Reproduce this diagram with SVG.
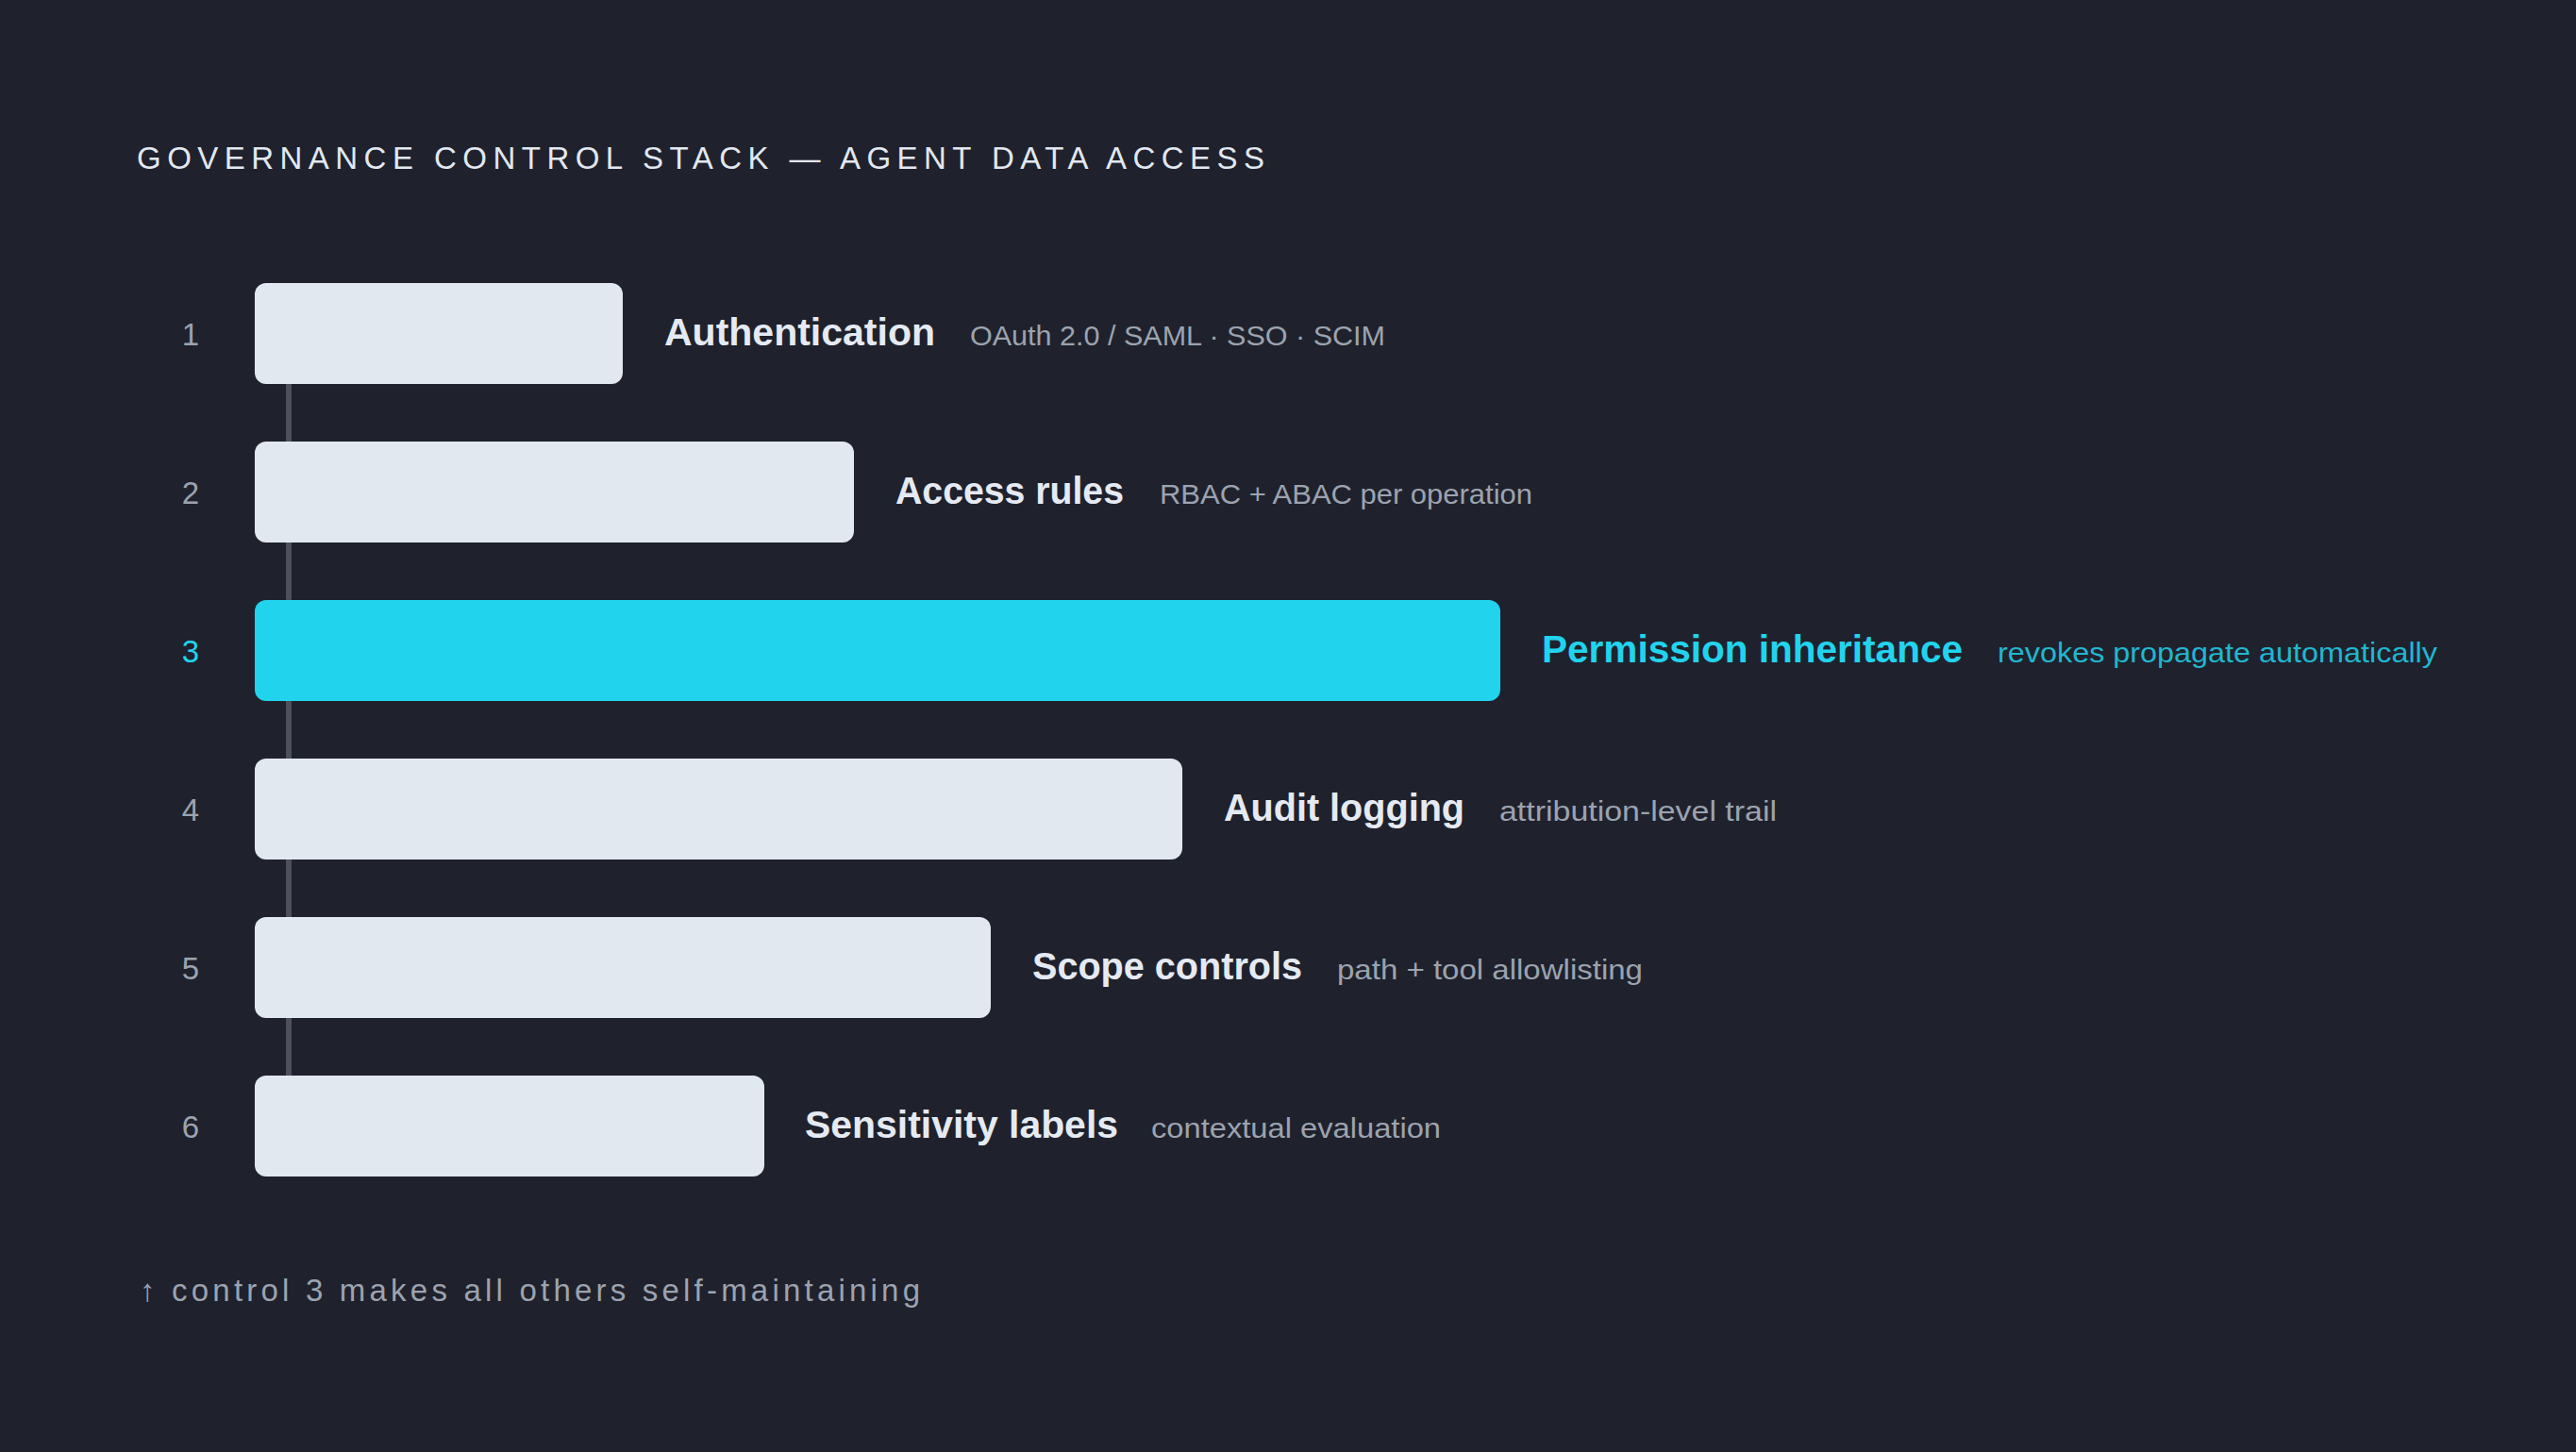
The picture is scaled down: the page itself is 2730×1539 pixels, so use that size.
<svg xmlns="http://www.w3.org/2000/svg" width="2730" height="1539" viewBox="0 0 2730 1539">
  <style>
    .bg { fill: #1f222d; }
    .box { fill: #e2e8f0; }
    .box.hi { fill: #22d3ee; }
    .num { font-family: "Liberation Sans", Arial, sans-serif; font-size: 33px; fill: #9ca3af; text-anchor: middle; }
    .num.hi { fill: #22d3ee; }
    .label { font-family: "Liberation Sans", Arial, sans-serif; font-size: 40px; font-weight: bold; fill: #e5eaf2; }
    .label.hi { fill: #22d3ee; }
    .desc { font-family: "Liberation Sans", Arial, sans-serif; font-size: 30px; fill: #9ca3af; }
    .desc.hi { fill: #22d3ee; fill-opacity: 0.85; }
    .title { font-family: "Liberation Sans", Arial, sans-serif; font-size: 33px; fill: #e2e8f0; }
    .foot { font-family: "Liberation Sans", Arial, sans-serif; font-size: 33px; fill: #9ca3af; }
    .spine { stroke: #4b505c; stroke-width: 6; fill: none; }
  </style>
  <rect class="bg" x="0" y="0" width="2730" height="1539"/>

  <text class="title" x="145" y="179" textLength="1195" lengthAdjust="spacing">GOVERNANCE CONTROL STACK — AGENT DATA ACCESS</text>

  <g id="connectors">
    <line class="spine" x1="306" y1="354" x2="306" y2="1193"/>
  </g>

  <g id="node-1">
    <rect class="box" x="270" y="300" width="390" height="107" rx="12"/>
    <text class="num" x="202" y="366">1</text>
    <text class="label" x="704" y="366" textLength="287" lengthAdjust="spacingAndGlyphs">Authentication</text>
    <text class="desc" x="1028" y="366" textLength="440" lengthAdjust="spacingAndGlyphs">OAuth 2.0 / SAML · SSO · SCIM</text>
  </g>

  <g id="node-2">
    <rect class="box" x="270" y="468" width="635" height="107" rx="12"/>
    <text class="num" x="202" y="534">2</text>
    <text class="label" x="949" y="534" textLength="242" lengthAdjust="spacingAndGlyphs">Access rules</text>
    <text class="desc" x="1229" y="534" textLength="395" lengthAdjust="spacingAndGlyphs">RBAC + ABAC per operation</text>
  </g>

  <g id="node-3">
    <rect class="box hi" x="270" y="636" width="1320" height="107" rx="12"/>
    <text class="num hi" x="202" y="702">3</text>
    <text class="label hi" x="1634" y="702" textLength="446" lengthAdjust="spacingAndGlyphs">Permission inheritance</text>
    <text class="desc hi" x="2117" y="702" textLength="466" lengthAdjust="spacingAndGlyphs">revokes propagate automatically</text>
  </g>

  <g id="node-4">
    <rect class="box" x="270" y="804" width="983" height="107" rx="12"/>
    <text class="num" x="202" y="870">4</text>
    <text class="label" x="1297" y="870" textLength="255" lengthAdjust="spacingAndGlyphs">Audit logging</text>
    <text class="desc" x="1589" y="870" textLength="294" lengthAdjust="spacingAndGlyphs">attribution-level trail</text>
  </g>

  <g id="node-5">
    <rect class="box" x="270" y="972" width="780" height="107" rx="12"/>
    <text class="num" x="202" y="1038">5</text>
    <text class="label" x="1094" y="1038" textLength="286" lengthAdjust="spacingAndGlyphs">Scope controls</text>
    <text class="desc" x="1417" y="1038" textLength="324" lengthAdjust="spacingAndGlyphs">path + tool allowlisting</text>
  </g>

  <g id="node-6">
    <rect class="box" x="270" y="1140" width="540" height="107" rx="12"/>
    <text class="num" x="202" y="1206">6</text>
    <text class="label" x="853" y="1206" textLength="332" lengthAdjust="spacingAndGlyphs">Sensitivity labels</text>
    <text class="desc" x="1220" y="1206" textLength="307" lengthAdjust="spacingAndGlyphs">contextual evaluation</text>
  </g>

  <text class="foot" x="148" y="1379" textLength="827" lengthAdjust="spacing">↑ control 3 makes all others self-maintaining</text>
</svg>
